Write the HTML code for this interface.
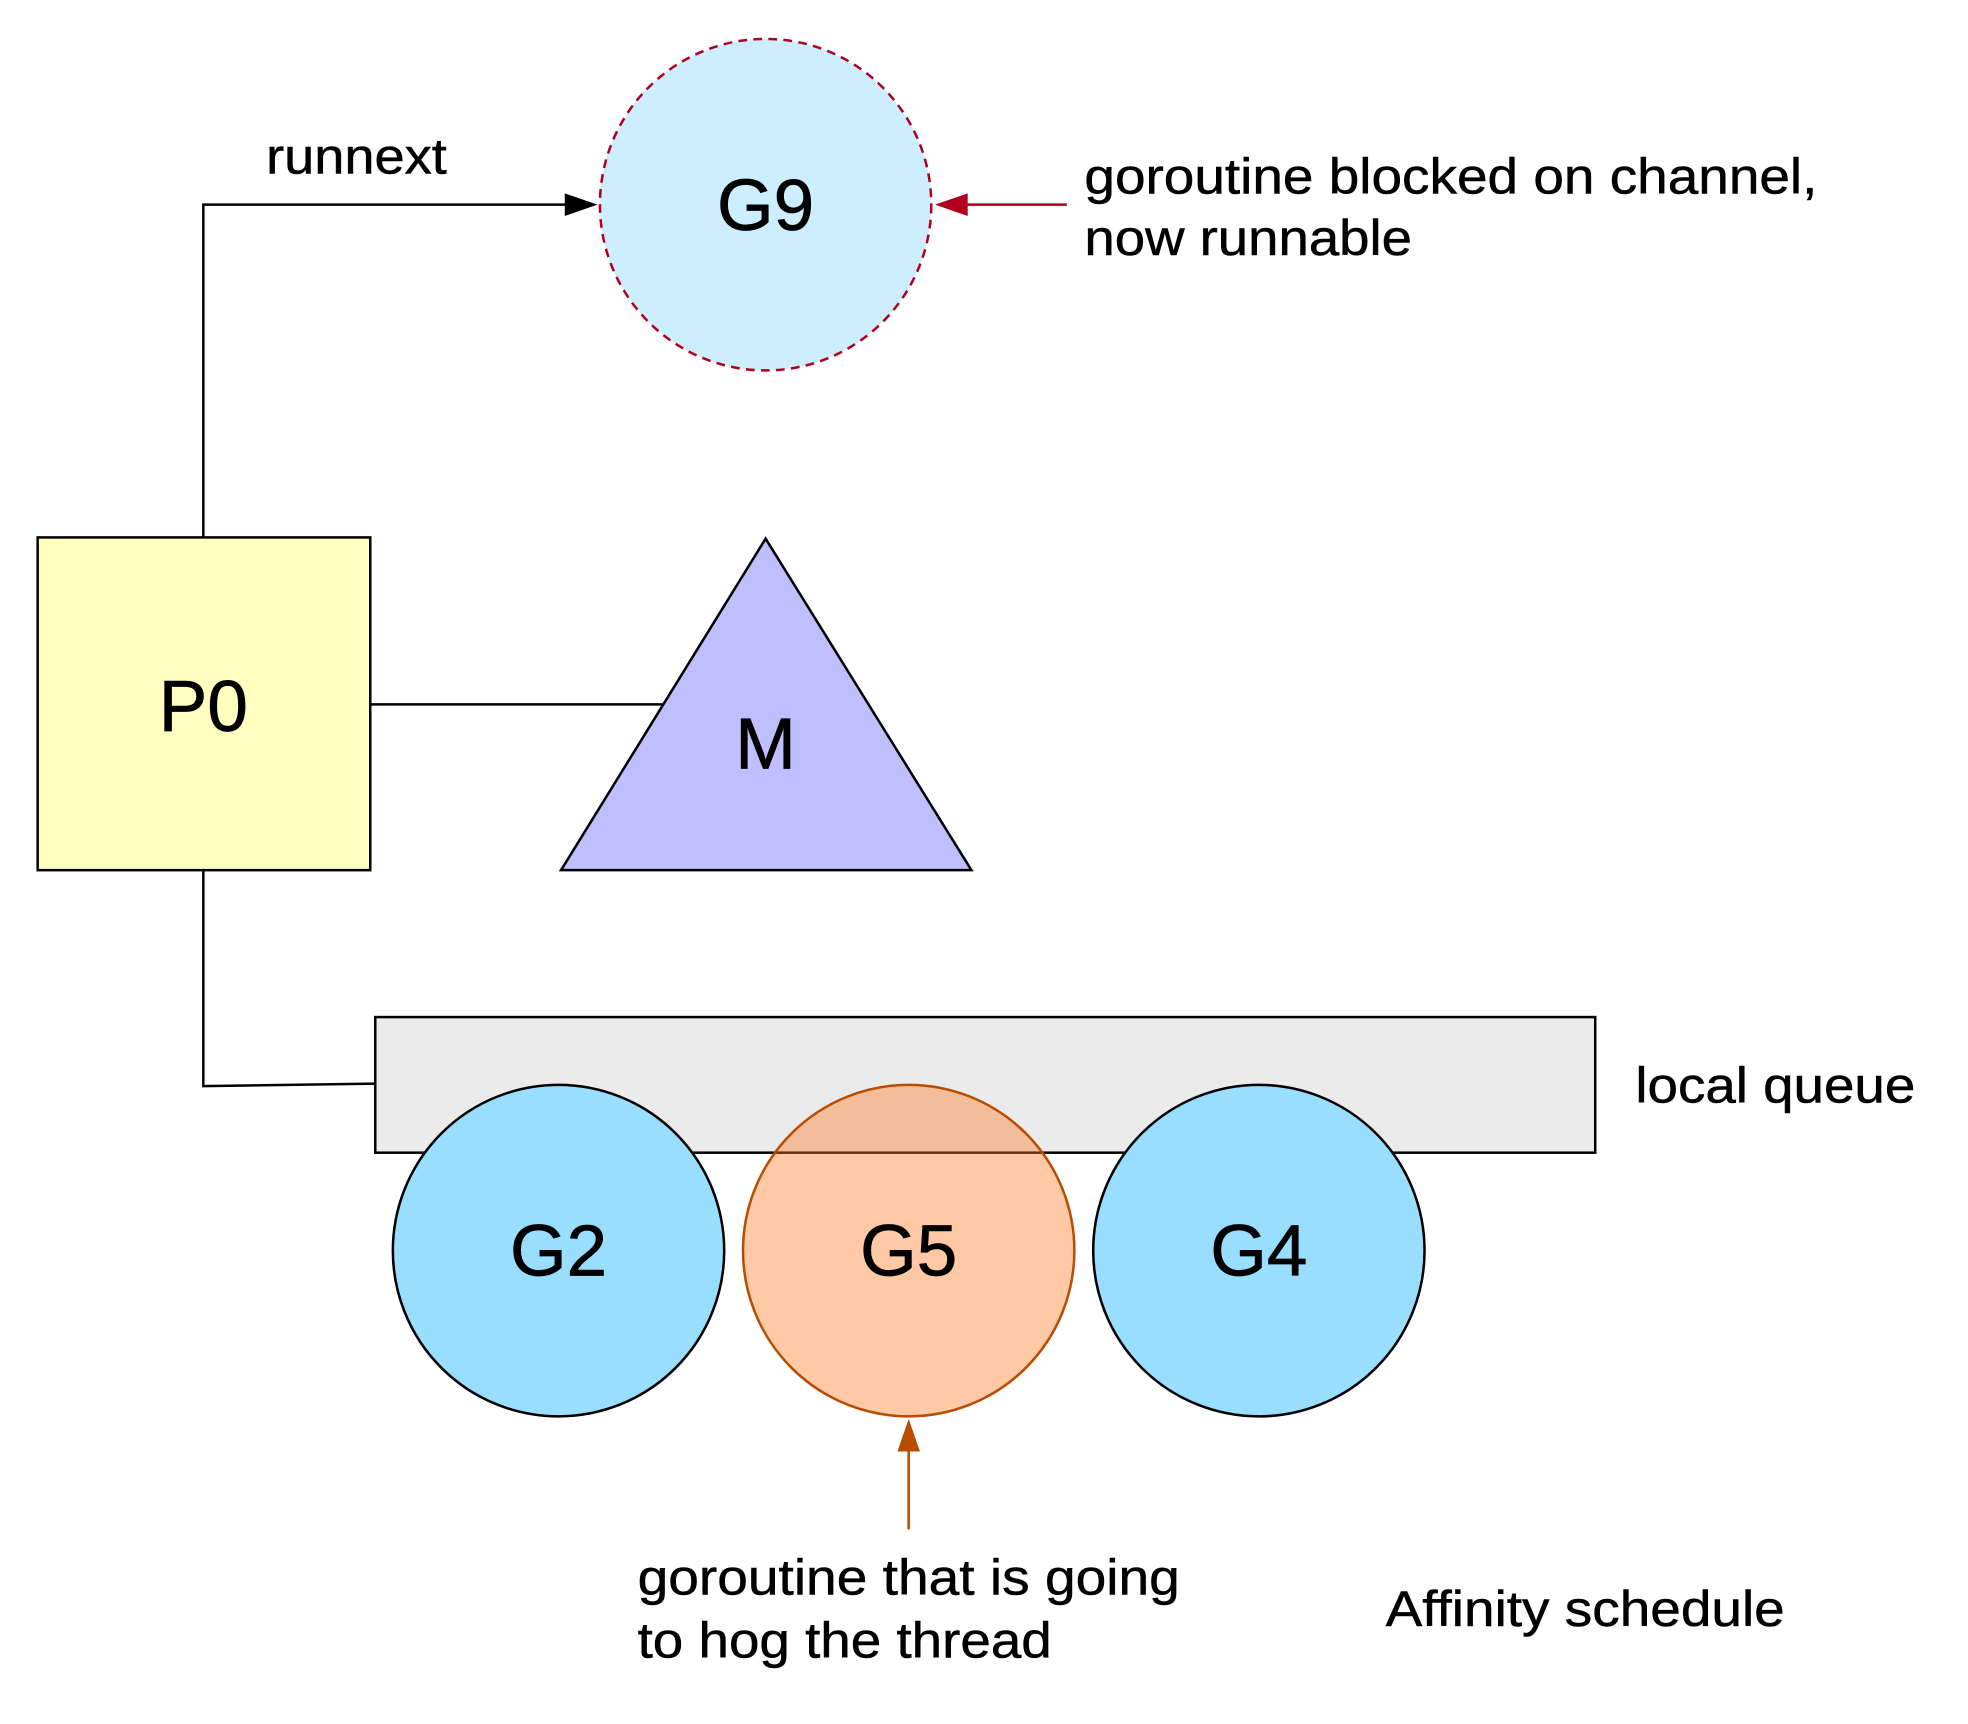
<!DOCTYPE html>
<html><head><style>html,body{margin:0;padding:0;background:#fff}svg{display:block}text{font-family:"Liberation Sans",Arial,sans-serif}</style></head>
<body>
<svg width="1968" height="1724" viewBox="0 0 1568 1373" preserveAspectRatio="none" xmlns="http://www.w3.org/2000/svg">
<polyline points="162,428 162,163 462,163" fill="none" stroke="#000" stroke-width="2"/>
<path d="M450,154 L476,163 L450,172 Z" fill="#000"/>
<line x1="850" y1="163" x2="760" y2="163" stroke="#b0001e" stroke-width="2"/>
<path d="M771,154 L745,163 L771,172 Z" fill="#b0001e"/>
<line x1="295" y1="561" x2="528" y2="561" stroke="#000" stroke-width="2"/>
<polyline points="162,693 162,865 299,863" fill="none" stroke="#000" stroke-width="2"/>
<circle cx="610" cy="163" r="132" fill="#cceeff" stroke="#b0001e" stroke-width="2" stroke-dasharray="7,5"/>
<text x="610" y="183" font-size="58" text-anchor="middle" stroke="#000" stroke-width="0.6">G9</text>
<text x="212" y="138" font-size="40" textLength="144" lengthAdjust="spacingAndGlyphs" stroke="#000" stroke-width="0.4">runnext</text>
<text x="864" y="154" font-size="40" textLength="584" lengthAdjust="spacingAndGlyphs" stroke="#000" stroke-width="0.4">goroutine blocked on channel,</text>
<text x="864" y="203" font-size="40" textLength="261" lengthAdjust="spacingAndGlyphs" stroke="#000" stroke-width="0.4">now runnable</text>
<rect x="30" y="428" width="265" height="265" fill="#ffffc0" stroke="#000" stroke-width="2"/>
<text x="162" y="582" font-size="58" text-anchor="middle" stroke="#000" stroke-width="0.6">P0</text>
<polygon points="610,429 447,693 774,693" fill="#bfbfff" stroke="#000" stroke-width="2"/>
<text x="610" y="612" font-size="58" text-anchor="middle" stroke="#000" stroke-width="0.6">M</text>
<rect x="299" y="810" width="972" height="108" fill="#ebebeb" stroke="#000" stroke-width="2"/>
<text x="1303" y="878" font-size="40" textLength="223" lengthAdjust="spacingAndGlyphs" stroke="#000" stroke-width="0.4">local queue</text>
<circle cx="445" cy="996" r="132" fill="#99ddff" stroke="#000" stroke-width="2"/>
<text x="445" y="1016" font-size="58" text-anchor="middle" stroke="#000" stroke-width="0.6">G2</text>
<circle cx="724" cy="996" r="132" fill="#ff7820" fill-opacity="0.4" stroke="#b84c00" stroke-width="2"/>
<text x="724" y="1016" font-size="58" text-anchor="middle" stroke="#000" stroke-width="0.6">G5</text>
<circle cx="1003" cy="996" r="132" fill="#99ddff" stroke="#000" stroke-width="2"/>
<text x="1003" y="1016" font-size="58" text-anchor="middle" stroke="#000" stroke-width="0.6">G4</text>
<line x1="724" y1="1218" x2="724" y2="1145" stroke="#b84c00" stroke-width="2"/>
<path d="M715,1156 L724,1130 L733,1156 Z" fill="#b84c00"/>
<text x="508" y="1270" font-size="40" textLength="432" lengthAdjust="spacingAndGlyphs" stroke="#000" stroke-width="0.4">goroutine that is going</text>
<text x="508" y="1320" font-size="40" textLength="330" lengthAdjust="spacingAndGlyphs" stroke="#000" stroke-width="0.4">to hog the thread</text>
<text x="1104" y="1295" font-size="40" textLength="318" lengthAdjust="spacingAndGlyphs" stroke="#000" stroke-width="0.4">Affinity schedule</text>
</svg>
</body></html>
